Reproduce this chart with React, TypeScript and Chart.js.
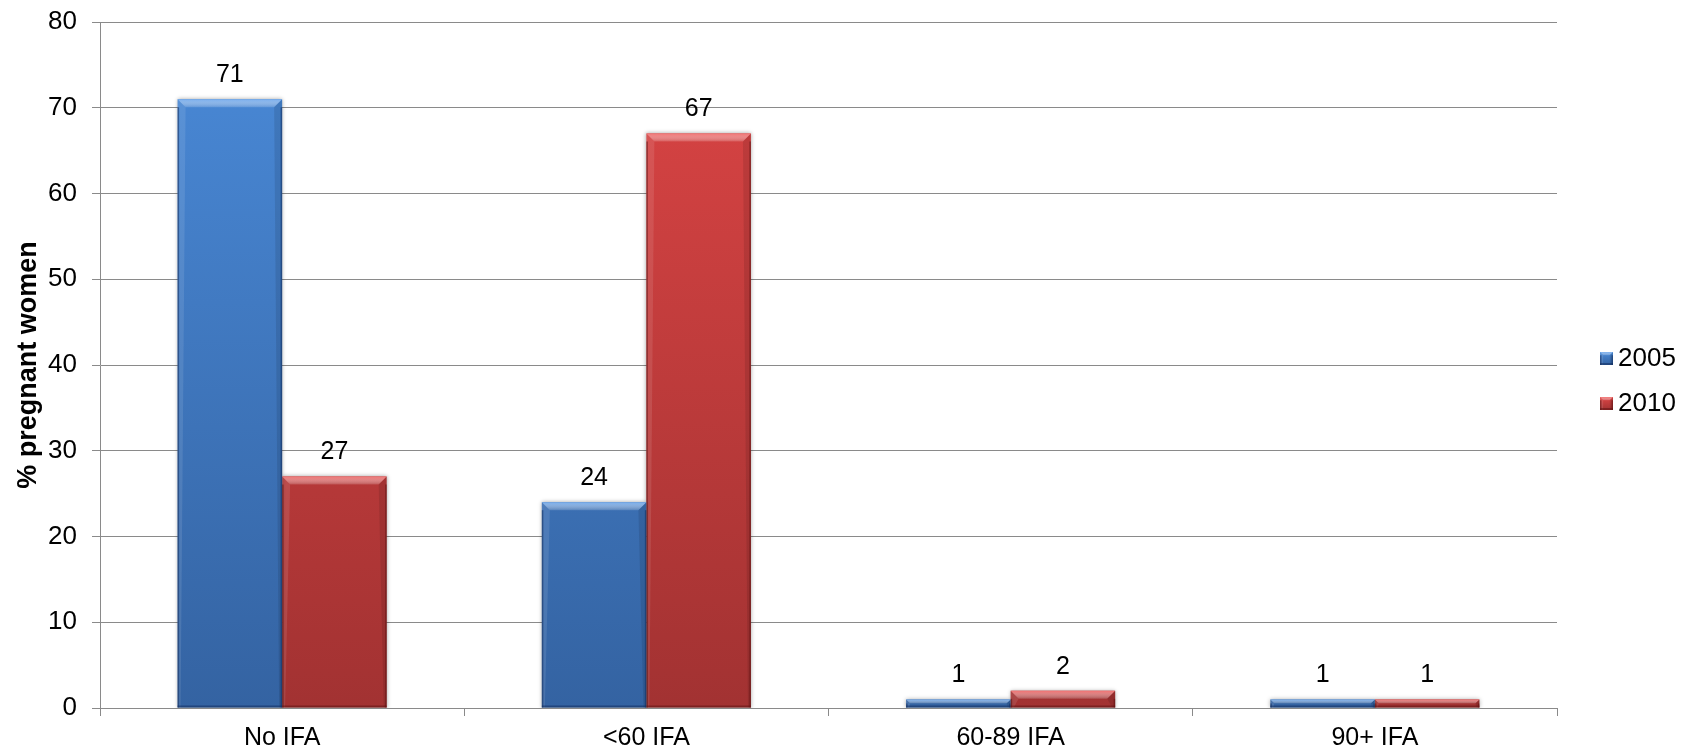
import { useEffect, useRef } from "react";
import { Chart, registerables } from "chart.js";

Chart.register(...registerables);

// ---- data ----
const categories = ["No IFA", "<60 IFA", "60-89 IFA", "90+ IFA"];
const seriesLabels = ["2005", "2010"];
const values2005 = [71, 24, 1, 1];
const values2010 = [27, 67, 2, 1];
const yMin = 0;
const yMax = 80;
const yStep = 10;
const yAxisTitle = "% pregnant women";

// ---- styling ----
const FONT = "'Liberation Sans', Arial, Helvetica, sans-serif";
const GRID = "#8a8a8a";

type Palette = { top: string; bottom: string; light: string; edge: string };
const palettes: Palette[] = [
  { top: "#4A8AD8", bottom: "#3463A2", light: "#78AEEE", edge: "rgba(18,45,95,0.55)" },
  { top: "#DC4545", bottom: "#A23232", light: "#F27272", edge: "rgba(95,18,18,0.55)" },
];

function makeFill(p: Palette) {
  return (ctx: any) => {
    const chart = ctx.chart;
    const area = chart.chartArea;
    if (!area) return p.top;
    const g = chart.ctx.createLinearGradient(0, area.top, 0, area.bottom);
    g.addColorStop(0, p.top);
    g.addColorStop(1, p.bottom);
    return g;
  };
}

// draws a raised box with a bevelled top edge and darker sides
function drawBevel(c: CanvasRenderingContext2D, left: number, top: number, right: number, bottom: number, p: Palette) {
  const h = bottom - top;
  const w = right - left;
  if (h <= 0 || w <= 0) return;
  const b = Math.min(8, h / 2, w / 4);
  c.save();
  const tg = c.createLinearGradient(0, top, 0, top + b);
  tg.addColorStop(0, p.light);
  tg.addColorStop(1, "rgba(255,255,255,0.15)");
  c.fillStyle = tg;
  c.beginPath();
  c.moveTo(left, top);
  c.lineTo(right, top);
  c.lineTo(right - b, top + b);
  c.lineTo(left + b, top + b);
  c.closePath();
  c.fill();
  // left and right bevel faces
  c.fillStyle = "rgba(255,255,255,0.10)";
  c.beginPath();
  c.moveTo(left, top);
  c.lineTo(left + b, top + b);
  c.lineTo(left + Math.min(b, 3), bottom);
  c.lineTo(left, bottom);
  c.closePath();
  c.fill();
  c.fillStyle = "rgba(0,0,0,0.10)";
  c.beginPath();
  c.moveTo(right, top);
  c.lineTo(right - b, top + b);
  c.lineTo(right - Math.min(b, 3), bottom);
  c.lineTo(right, bottom);
  c.closePath();
  c.fill();
  // thin darker outline on sides and base
  c.fillStyle = p.edge;
  const e = Math.min(2, h / 4);
  c.fillRect(left, top + b, 1.5, h - b);
  c.fillRect(right - 1.5, top + b, 1.5, h - b);
  c.fillRect(left, bottom - e, w, e);
  c.restore();
}

const barDecor = {
  id: "barDecor",
  beforeDatasetsDraw(chart: any) {
    const c = chart.ctx;
    c.save();
    c.shadowColor = "rgba(0,0,0,0.35)";
    c.shadowBlur = 4;
    c.shadowOffsetX = 0;
    c.shadowOffsetY = 0;
  },
  afterDatasetsDraw(chart: any) {
    const c: CanvasRenderingContext2D = chart.ctx;
    c.restore();
    chart.data.datasets.forEach((ds: any, di: number) => {
      const meta = chart.getDatasetMeta(di);
      meta.data.forEach((bar: any, i: number) => {
        const { x, y, base, width } = bar.getProps(["x", "y", "base", "width"], true);
        drawBevel(c, x - width / 2, y, x + width / 2, base, palettes[di]);
        c.save();
        c.fillStyle = "#000";
        c.font = `25px ${FONT}`;
        c.textAlign = "center";
        c.textBaseline = "alphabetic";
        c.fillText(String(ds.data[i]), x, y - 17);
        c.restore();
      });
    });
  },
};

const sideLegend = {
  id: "sideLegend",
  afterDraw(chart: any) {
    const c: CanvasRenderingContext2D = chart.ctx;
    const rows = [358, 403];
    chart.data.datasets.forEach((ds: any, di: number) => {
      const cy = rows[di];
      const p = palettes[di];
      c.save();
      const g = c.createLinearGradient(0, cy - 6, 0, cy + 7);
      g.addColorStop(0, p.top);
      g.addColorStop(1, p.bottom);
      c.fillStyle = g;
      c.fillRect(1600, cy - 6, 13, 13);
      drawBevel(c, 1600, cy - 6, 1613, cy + 7, p);
      c.fillStyle = "#000";
      c.font = `26px ${FONT}`;
      c.textAlign = "left";
      c.textBaseline = "middle";
      c.fillText(ds.label, 1618, cy + 1);
      c.restore();
    });
  },
};

export default function App() {
  const ref = useRef<HTMLCanvasElement>(null);

  useEffect(() => {
    if (!ref.current) return;
    const chart = new Chart(ref.current, {
      type: "bar",
      data: {
        labels: categories,
        datasets: [
          { label: seriesLabels[0], data: values2005, backgroundColor: makeFill(palettes[0]), borderWidth: 0 },
          { label: seriesLabels[1], data: values2010, backgroundColor: makeFill(palettes[1]), borderWidth: 0 },
        ],
      },
      options: {
        animation: false,
        responsive: false,
        devicePixelRatio: 1,
        datasets: { bar: { categoryPercentage: 0.574, barPercentage: 1 } },
        layout: { padding: { top: 22, right: 133, left: 0, bottom: 0 } },
        plugins: {
          legend: { display: false },
          tooltip: { enabled: false },
        },
        scales: {
          x: {
            grid: { display: true, drawOnChartArea: false, drawTicks: true, tickLength: 8, color: GRID, offset: true },
            border: { display: true, color: GRID, width: 1 },
            ticks: { color: "#000", font: { family: FONT, size: 25 }, padding: 7, maxRotation: 0 },
            afterFit: (s: any) => {
              s.height = 44;
              s.paddingLeft = 0;
              s.paddingRight = 0;
            },
          },
          y: {
            min: yMin,
            max: yMax,
            ticks: { stepSize: yStep, color: "#000", font: { family: FONT, size: 26 }, padding: 15 },
            grid: { color: GRID, tickLength: 8, drawTicks: true },
            border: { display: true, color: GRID, width: 1 },
            title: {
              display: true,
              text: yAxisTitle,
              color: "#000",
              font: { family: FONT, size: 27, weight: "bold" },
              padding: { top: 12, bottom: 0 },
            },
            afterFit: (s: any) => {
              s.width = 100;
              s.paddingTop = 0;
              s.paddingBottom = 0;
            },
          },
        },
      },
      plugins: [barDecor, sideLegend],
    });
    return () => chart.destroy();
  }, []);

  return (
    <div style={{ position: "absolute", left: 0, top: 0, width: 1690, height: 752, background: "#fff" }}>
      <canvas ref={ref} width={1690} height={752} />
    </div>
  );
}
